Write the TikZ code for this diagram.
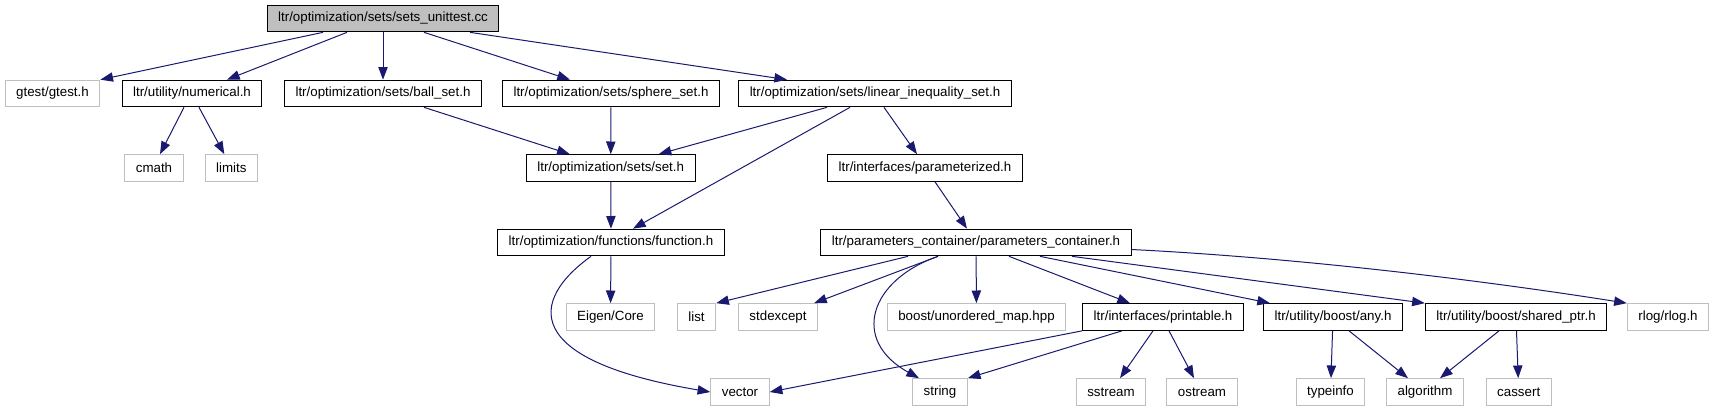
\documentclass[tikz,border=0pt]{standalone}
\usepackage{fontspec}
\setmainfont{Liberation Sans}
\usepackage{tikz}
\usetikzlibrary{arrows.meta,calc}
\definecolor{edgeblue}{RGB}{25,25,112}
\definecolor{sysgray}{RGB}{191,191,191}

\begin{document}
\begin{tikzpicture}[
  x=0.75pt, y=-0.75pt,
  line width=0.75pt,
  every node/.style={font=\fontsize{10}{12}\selectfont},
  filebox/.style={draw=black, fill=white, inner xsep=8.3pt,
    inner ysep=0pt, minimum height=20pt},
  sysbox/.style={filebox, draw=sysgray},
  rootbox/.style={filebox, fill=sysgray},
  dep/.style={draw=edgeblue, -{Triangle[length=9.5pt,width=7pt]}}
]
\useasboundingbox (0,0) rectangle (1712,411);

% 第1段：テスト本体
\node[rootbox] (unittest) at (383,18.5) {ltr/optimization/sets/sets\_unittest.cc};

% 第2段
\node[sysbox]  (gtest)     at (52.5,93.5) {gtest/gtest.h};
\node[filebox] (numerical) at (192,93.5)  {ltr/utility/numerical.h};
\node[filebox] (ballset)   at (383,93.5)  {ltr/optimization/sets/ball\_set.h};
\node[filebox] (sphereset) at (611,93.5)  {ltr/optimization/sets/sphere\_set.h};
\node[filebox] (lineq)     at (875,93.5)  {ltr/optimization/sets/linear\_inequality\_set.h};

% 第3段
\node[sysbox]  (cmath)  at (154,168)   {cmath};
\node[sysbox]  (limits) at (231.3,168) {limits};
\node[filebox] (setH)   at (610.7,168) {ltr/optimization/sets/set.h};
\node[filebox] (paramz) at (925,168)   {ltr/interfaces/parameterized.h};

% 第4段
\node[filebox] (func)  at (611,242.5) {ltr/optimization/functions/function.h};
\node[filebox] (pcont) at (976,242.5) {ltr/parameters\_container/parameters\_container.h};

% 第5段
\node[sysbox]  (eigen)     at (610.5,317) {Eigen/Core};
\node[sysbox]  (list)      at (696.5,317) {list};
\node[sysbox]  (stdexc)    at (778,317)   {stdexcept};
\node[sysbox]  (umap)      at (976.5,317) {boost/unordered\_map.hpp};
\node[filebox] (printable) at (1163,317)  {ltr/interfaces/printable.h};
\node[filebox] (anyH)      at (1333,317)  {ltr/utility/boost/any.h};
\node[filebox] (sharedptr) at (1516,317)  {ltr/utility/boost/shared\_ptr.h};
\node[sysbox]  (rlog)      at (1668,317)  {rlog/rlog.h};

% 第6段：標準ヘッダ
\foreach \n/\x in {vector/740,string/940,sstream/1111,ostream/1202,
                   typeinfo/1330.5,algorithm/1425,cassert/1518.7}
  \node[sysbox] (\n) at (\x,392) {\n};

% テスト本体から
\draw[dep] ($(unittest.south)+(-60,0)$) -- (gtest.north east);
\draw[dep] ($(unittest.south)+(-36,0)$) -- ($(numerical.north)+(35,0)$);
\draw[dep] (unittest) -- (ballset);
\draw[dep] ($(unittest.south)+(41,0)$) -- ($(sphereset.north)+(-41,0)$);
\draw[dep] ($(unittest.south)+(87,0)$) -- ($(lineq.north)+(-88,0)$);

\draw[dep] ($(numerical.south)+(-8,0)$) -- ($(cmath.north)+(6,0)$);
\draw[dep] ($(numerical.south)+(7,0)$) -- ($(limits.north)+(-7,0)$);

% 集合のヘッダ
\draw[dep] ($(ballset.south)+(41,0)$) -- ($(setH.north)+(-41,0)$);
\draw[dep] (sphereset) -- (setH);
\draw[dep] ($(lineq.south)+(-48,0)$) -- ($(setH.north)+(48,0)$);
\draw[dep] ($(lineq.south)+(-25,0)$) -- ($(func.north)+(22,0)$);
\draw[dep] ($(lineq.south)+(9,0)$) -- ($(paramz.north)+(-8,0)$);
\draw[dep] (setH) -- (func);
\draw[dep] ($(paramz.south)+(10,0)$) -- ($(pcont.north)+(-9,0)$);

% function.h から
\draw[dep] (func) -- (eigen);
\draw[dep] ($(func.south)+(-20,0)$)
  .. controls (530,300) and (520,360) .. (vector.west);

% parameters_container.h から
\draw[dep] ($(pcont.south)+(-68,0)$) -- (list.north east);
\draw[dep] ($(pcont.south)+(-38,0)$) -- ($(stdexc.north east)+(-4,0)$);
\draw[dep] ($(pcont.south)+(-38,0)$)
  .. controls (870,280) and (850,340) .. ($(string.north)+(-21,0)$);
\draw[dep] (pcont) -- (umap);
\draw[dep] ($(pcont.south)+(33,0)$) -- ($(printable.north)+(-33,0)$);
\draw[dep] ($(pcont.south)+(64,0)$) -- ($(anyH.north)+(-63,0)$);
\draw[dep] ($(pcont.south)+(96,0)$) -- (sharedptr.north west);
\draw[dep] ($(pcont.east)+(0,7)$)
  .. controls (1300,258) and (1480,280) .. (rlog.north west);

% 最下段へ
\draw[dep] (printable.south west) -- (vector.east);
\draw[dep] ($(printable.south)+(-41,0)$) -- (string.north east);
\draw[dep] ($(printable.south)+(-10,0)$) -- ($(sstream.north)+(9,0)$);
\draw[dep] ($(printable.south)+(6,0)$) -- ($(ostream.north)+(-8,0)$);
\draw[dep] (anyH) -- (typeinfo);
\draw[dep] ($(anyH.south)+(16,0)$) -- ($(algorithm.north)+(-17,0)$);
\draw[dep] ($(sharedptr.south)+(-17,0)$) -- ($(algorithm.north)+(15,0)$);
\draw[dep] (sharedptr) -- (cassert);

\end{tikzpicture}
\end{document}
